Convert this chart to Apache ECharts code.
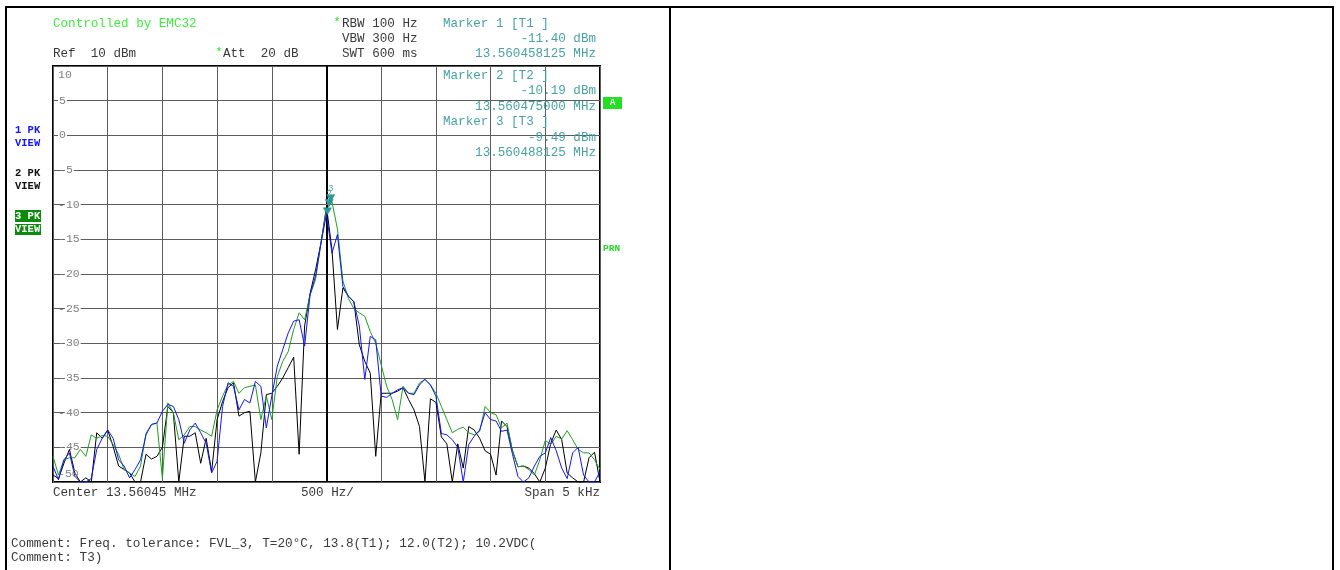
<!DOCTYPE html>
<html>
<head>
<meta charset="utf-8">
<title>EMC32 spectrum</title>
<script src="https://cdn.jsdelivr.net/npm/echarts@6/dist/echarts.min.js"></script>
<style>
html, body { margin: 0; padding: 0; background: #fff; }
#chart { width: 1340px; height: 570px; }
</style>
</head>
<body>
<div id="chart"></div>
<script>
// sweep points, offset from start frequency (Hz), 50 Hz apart
const freqHz = [
  0, 50, 100, 150, 200, 250, 300, 350, 400, 450,
  500, 550, 600, 650, 700, 750, 800, 850, 900, 950,
  1000, 1050, 1100, 1150, 1200, 1250, 1300, 1350, 1400, 1450,
  1500, 1550, 1600, 1650, 1700, 1750, 1800, 1850, 1900, 1950,
  2000, 2050, 2100, 2150, 2200, 2250, 2300, 2350, 2400, 2450,
  2500, 2550, 2600, 2650, 2700, 2750, 2800, 2850, 2900, 2950,
  3000, 3050, 3100, 3150, 3200, 3250, 3300, 3350, 3400, 3450,
  3500, 3550, 3600, 3650, 3700, 3750, 3800, 3850, 3900, 3950,
  4000, 4050, 4100, 4150, 4200, 4250, 4300, 4350, 4400, 4450,
  4500, 4550, 4600, 4650, 4700, 4750, 4800, 4850, 4900, 4950,
  5000
];

// trace 1 (blue), dBm
const trace1 = [
  -47.7, -49.7, -46.8, -45.8, -49.2, -50, -50, -49.5, -45.3, -43.7,
  -42.5, -43.7, -46.8, -47.7, -49.4, -48.2, -46.8, -43.2, -41.7, -41.5,
  -39.8, -38.8, -39.1, -41, -44.4, -42.5, -41.5, -42.9, -44.4, -48.7,
  -47, -39.1, -35.7, -36.2, -39.6, -38.1, -38.6, -35.5, -36.2, -42.2,
  -37.6, -33.3, -30.9, -28.5, -26.8, -26.6, -30.4, -23, -20.3, -15.5,
  -11.4, -17, -14.3, -21.8, -23.2, -24, -27.5, -35.2, -29, -29.5,
  -37.6, -37.8, -37.2, -36.7, -36.4, -37.2, -37.4, -36, -35.2, -36,
  -37.6, -43, -43.2, -43.9, -45, -50, -44.6, -43.4, -42.5, -40,
  -41, -41.2, -42.7, -42.5, -46, -49.2, -50, -49.4, -47.7, -46.3,
  -45.8, -43.6, -45.5, -48, -49.5, -45.8, -45, -49, -50, -50,
  -48.5
];

// trace 2 (black), dBm
const trace2 = [
  -49, -49.5, -47.3, -45.3, -48.7, -50, -49.4, -50, -42.9, -43.7,
  -42.5, -44.9, -47.7, -48.2, -48.7, -50, -50, -46, -46.7, -46.3,
  -45, -39.1, -40, -50, -43.4, -43.4, -42.9, -47.3, -43.7, -48.5,
  -41, -38.4, -36.4, -35.7, -40.5, -40, -39.8, -50, -45.8, -37.4,
  -37.2, -36.2, -35, -33.5, -32, -46, -27.5, -22.8, -19.4, -15.5,
  -10.3, -16.5, -28, -22, -23.2, -24, -30.2, -32.6, -34.3, -46.3,
  -37.2, -37.2, -37.2, -36.9, -36.4, -38.1, -39.6, -42, -50, -38,
  -38.5, -43.5, -44.5, -50, -44.5, -48, -42, -42.5, -43.7, -45.5,
  -46, -49, -41.2, -42, -45.5, -47.8, -47.7, -48, -48.8, -50,
  -48, -44.4, -42.5, -43.9, -48.7, -49.4, -50, -50, -46.5, -45.7,
  -50
];

// trace 3 (green), dBm
const trace3 = [
  -46.3, -49, -46.8, -46.5, -46.5, -45.3, -46.3, -43.2, -43.7, -43.3,
  -43.4, -44.6, -46, -48.2, -48.7, -49.2, -47.7, -43, -41.7, -41.5,
  -49.5, -38.6, -40, -43.9, -43.2, -42, -42, -42.5, -42.9, -43.4,
  -39.6, -37.6, -36, -35.5, -37.2, -36.4, -36.2, -36, -41, -37.6,
  -41, -34.8, -32.6, -31.2, -28, -25.6, -26.6, -23, -20.8, -15.5,
  -10.6, -9.6, -13.5, -21, -23.5, -25, -25.6, -26.1, -28.3, -30,
  -33.1, -36.2, -38.1, -41, -36.2, -37.2, -37.2, -35.7, -35.2, -36,
  -37.2, -39.1, -41, -42.9, -42.4, -42.1, -42.9, -43.2, -42.7, -39.1,
  -40, -40.3, -42.2, -41.5, -45.5, -47.8, -47.7, -48.2, -49, -46.8,
  -44, -44.6, -43.4, -43.8, -42.6, -43.9, -45.3, -45.8, -45.8, -46.8,
  -48.2
];

// markers: number, frequency offset (Hz), level (dBm)
const markerNo = [1, 2, 3];
const markerHz = [2508.125, 2525, 2538.125];
const markerDbm = [-11.40, -10.19, -9.49];

const yTicks = [10, 5, 0, -5, -10, -15, -20, -25, -30, -35, -40, -45, -50];
const centerHz = 2500;

const FONT = '"Liberation Mono", "DejaVu Sans Mono", monospace';
const TEAL = '#47a3a3';
const GRAY_TXT = '#3a3a3a';
const LIME = '#3cf03c';

function txt(x, y, s, color, size, opt) {
  opt = opt || {};
  const al = opt.align || 'left';
  return {
    type: 'text', x: x, y: y, silent: true, z: opt.z || 20,
    style: {
      text: s, fill: color,
      font: (opt.bold ? 'bold ' : '') + size + 'px ' + FONT,
      align: al, verticalAlign: 'middle',
      textAlign: al, textVerticalAlign: 'middle'
    }
  };
}
function box(x, y, w, h, color) {
  return { type: 'rect', silent: true, z: 15, shape: { x: x, y: y, width: w, height: h }, style: { fill: color } };
}

const chart = echarts.init(document.getElementById('chart'), null, { renderer: 'canvas' });

function trace(name, vals, color, z, k) {
  return {
    name: name, type: 'line', z: z,
    data: freqHz.map((f, i) => [f, vals[i]]),
    showSymbol: false, symbol: 'none', silent: true, animation: false, clip: true,
    lineStyle: { color: color, width: 1 },
    itemStyle: { color: color },
    markPoint: {
      silent: true, animation: false,
      symbol: 'triangle', symbolRotate: 180, symbolSize: [8, 7], symbolOffset: [0, -3],
      itemStyle: { color: '#2a9a9a', borderColor: '#1c7c7c', borderWidth: 0.5 },
      label: {
        show: true, position: 'top', distance: 1, color: TEAL,
        fontSize: 9, fontFamily: FONT, formatter: String(markerNo[k])
      },
      data: [{ coord: [markerHz[k], markerDbm[k]] }]
    }
  };
}

const series = [
  trace('2 PK VIEW', trace2, '#000000', 3, 1),
  trace('3 PK VIEW', trace3, '#1e9e1e', 4, 2),
  trace('1 PK VIEW', trace1, '#1414ff', 5, 0)
];
series[0].markLine = {
  silent: true, animation: false, symbol: ['none', 'none'],
  label: { show: false },
  lineStyle: { color: '#000', width: 2, type: 'solid' },
  data: [{ xAxis: centerHz }]
};

const graphic = [
  // frames
  { type: 'rect', silent: true, z: 1, shape: { x: 6, y: 7, width: 664, height: 590 }, style: { fill: 'none', stroke: '#000', lineWidth: 2 } },
  { type: 'rect', silent: true, z: 1, shape: { x: 670, y: 7, width: 663, height: 590 }, style: { fill: 'none', stroke: '#000', lineWidth: 2 } },

  // header
  txt(53, 23.5, 'Controlled by EMC32', LIME, 12.6),
  txt(334, 22, '*', LIME, 10, { bold: true }),
  txt(342, 23.5, 'RBW 100 Hz', GRAY_TXT, 12.6),
  txt(342, 39, 'VBW 300 Hz', GRAY_TXT, 12.6),
  txt(342, 54, 'SWT 600 ms', GRAY_TXT, 12.6),
  txt(53, 54, 'Ref  10 dBm', GRAY_TXT, 12.6),
  txt(216, 52.5, '*', LIME, 10, { bold: true }),
  txt(223, 54, 'Att  20 dB', GRAY_TXT, 12.6),
  txt(443, 23.5, 'Marker 1 [T1 ]', TEAL, 12.6),
  txt(596, 39, '-11.40 dBm', TEAL, 12.6, { align: 'right' }),
  txt(596, 54, '13.560458125 MHz', TEAL, 12.6, { align: 'right' }),

  // marker block inside the diagram
  txt(443, 76, 'Marker 2 [T2 ]', TEAL, 12.6),
  txt(596, 91, '-10.19 dBm', TEAL, 12.6, { align: 'right' }),
  txt(596, 107, '13.560475000 MHz', TEAL, 12.6, { align: 'right' }),
  txt(443, 122, 'Marker 3 [T3 ]', TEAL, 12.6),
  txt(596, 137.5, '-9.49 dBm', TEAL, 12.6, { align: 'right' }),
  txt(596, 153, '13.560488125 MHz', TEAL, 12.6, { align: 'right' }),

  // trace legend on the left
  txt(15, 130, '1 PK', '#1414ff', 10.5, { bold: true }),
  txt(15, 143, 'VIEW', '#1414ff', 10.5, { bold: true }),
  txt(15, 173, '2 PK', '#111', 10.5, { bold: true }),
  txt(15, 186, 'VIEW', '#111', 10.5, { bold: true }),
  box(15, 210, 26, 12, '#0c8a0c'),
  box(15, 224, 26, 11, '#0c8a0c'),
  txt(15, 216, '3 PK', '#ffffff', 10.5, { bold: true }),
  txt(15, 229.5, 'VIEW', '#ffffff', 10.5, { bold: true }),

  // right side indicators
  box(603, 97, 19, 12, '#22e022'),
  txt(612.5, 103, 'A', '#ffffff', 9.5, { bold: true, align: 'center' }),
  txt(603, 248.5, 'PRN', '#22dd22', 9.5, { bold: true }),

  // top / bottom level labels
  txt(58, 75, String(yTicks[0]), '#808080', 11.5),
  txt(58, 474, String(yTicks[yTicks.length - 1]), '#808080', 11.5),

  // footer
  txt(53, 493, 'Center 13.56045 MHz', GRAY_TXT, 12.6),
  txt(301, 493, '500 Hz/', GRAY_TXT, 12.6),
  txt(600, 493, 'Span 5 kHz', GRAY_TXT, 12.6, { align: 'right' }),
  txt(11, 544, 'Comment: Freq. tolerance: FVL_3, T=20\u00b0C, 13.8(T1); 12.0(T2); 10.2VDC(', GRAY_TXT, 12.7),
  txt(11, 558, 'Comment: T3)', GRAY_TXT, 12.7)
];

chart.setOption({
  animation: false,
  backgroundColor: '#ffffff',
  grid: {
    left: 53, top: 66, width: 547, height: 416,
    show: true, borderColor: '#000', borderWidth: 2, backgroundColor: 'transparent'
  },
  xAxis: {
    type: 'value', min: 0, max: 5000, interval: 500,
    axisLine: { show: false }, axisTick: { show: false }, axisLabel: { show: false },
    splitLine: { show: true, lineStyle: { color: '#5c5c5c', width: 1 } }
  },
  yAxis: {
    type: 'value', min: -50, max: 10, interval: 5,
    axisLine: { show: false }, axisTick: { show: false },
    splitLine: { show: true, lineStyle: { color: '#5c5c5c', width: 1 } },
    axisLabel: {
      inside: true, margin: 5, align: 'left', color: '#808080',
      fontFamily: FONT, fontSize: 11.5,
      showMinLabel: false, showMaxLabel: false,
      formatter: function (v) {
        const s = yTicks.indexOf(v) >= 0 ? String(v) : '';
        if (!s || v === yTicks[0] || v === yTicks[yTicks.length - 1]) return '';
        return s.charAt(0) === '-' ? '{m|-}{d|' + s.slice(1) + '}' : '{d|' + s + '}';
      },
      rich: {
        m: { color: '#808080', fontFamily: FONT, fontSize: 11.5 },
        d: { color: '#808080', fontFamily: FONT, fontSize: 11.5, backgroundColor: '#ffffff', padding: [0, 1] }
      }
    }
  },
  series: series,
  graphic: graphic
});
</script>
</body>
</html>
